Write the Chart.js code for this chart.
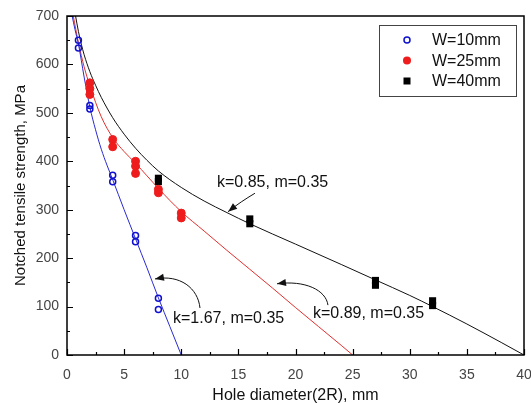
<!DOCTYPE html>
<html>
<head>
<meta charset="utf-8">
<script src="https://cdn.jsdelivr.net/npm/chart.js@4.4.1/dist/chart.umd.min.js"></script>
<style>
  html, body { margin: 0; padding: 0; background: #fff; }
</style>
</head>
<body>
<canvas id="chart" width="531" height="403"></canvas>
<script>
// measured points
const w10X = [1, 1, 2, 2, 4, 4, 6, 6, 8, 8];
const w10Y = [650, 634, 515, 508, 371, 358, 247, 234, 117, 94];
const w25X = [2, 2, 2, 4, 4, 6, 6, 6, 8, 8, 10, 10];
const w25Y = [562, 550, 538, 445, 430, 400, 390, 375, 342, 335, 293, 283];
const w40X = [8, 8, 16, 16, 27, 27, 32, 32];
const w40Y = [365, 358, 281, 271, 154, 144, 112, 102];

// fitted curves
const fit10X = [0.45, 0.7, 1, 1.5, 2, 2.5, 3, 3.5, 4, 5, 6, 7, 8, 9, 10];
const fit10Y = [700, 672, 642, 574, 512, 465, 425, 392, 362, 300, 240, 180, 118, 59, 0];
const fit25X = [0.55, 1, 1.5, 2, 3, 4, 5, 6, 7, 8, 10, 12, 14, 16, 18, 20, 22, 24, 25];
const fit25Y = [700, 645, 595, 556, 492, 449, 420, 396, 370, 344, 296, 256, 216, 177, 138, 98, 59, 20, 0];
const fit40X = [0.75, 1, 1.25, 1.5, 2, 2.5, 3, 4, 5, 6, 7, 8, 10, 12, 14, 16, 20, 24, 27, 30, 32, 35, 38, 40];
const fit40Y = [700, 668, 642, 620, 585, 557, 532, 490, 456, 427, 402, 380, 346, 318, 294, 271, 229, 187, 155, 123, 100, 64, 26, 0];

const seriesLabels = ["W=10mm", "W=25mm", "W=40mm"];
const fitLabels = ["k=1.67, m=0.35", "k=0.89, m=0.35", "k=0.85, m=0.35"];

const FONT = "'Liberation Sans', Arial, sans-serif";
const BLUE = "#1010d0";
const RED = "#ee1c1c";

const pts = (xs, ys) => xs.map((x, i) => ({ x, y: ys[i] }));

// label text + arrow, in data units (p0 -> c1 -> c2 -> tip)
const notes = [
  { text: fitLabels[2], at: [13.13, 357], arrow: [[16.45, 334], [15.6, 322], [14.9, 311], [14.1, 296]] },
  { text: fitLabels[1], at: [21.53, 85], arrow: [[22.84, 103], [22.67, 134], [20.83, 155], [18.38, 147]] },
  { text: fitLabels[0], at: [9.28, 76], arrow: [[11.64, 97], [11.47, 138], [9.89, 167], [7.7, 157]] },
];

const extras = {
  id: "extras",
  afterDatasetsDraw(chart) {
    const { ctx, chartArea: a, scales } = chart;
    const xs = scales.x, ys = scales.y;
    ctx.save();

    // frame + inward ticks
    ctx.strokeStyle = "#000";
    ctx.lineWidth = 1.5;
    ctx.strokeRect(a.left, a.top, a.right - a.left, a.bottom - a.top);
    ctx.lineWidth = 1.2;
    ctx.beginPath();
    for (let v = 0; v <= 40; v += 2.5) {
      const px = Math.round(xs.getPixelForValue(v)) + 0.5;
      const len = v % 5 === 0 ? 6 : 3;
      ctx.moveTo(px, a.bottom);
      ctx.lineTo(px, a.bottom - len);
    }
    for (let v = 0; v <= 700; v += 50) {
      const py = Math.round(ys.getPixelForValue(v)) + 0.5;
      const len = v % 100 === 0 ? 6 : 3;
      ctx.moveTo(a.left, py);
      ctx.lineTo(a.left + len, py);
    }
    ctx.stroke();

    // annotations
    ctx.fillStyle = "#111";
    ctx.font = "16px " + FONT;
    ctx.textBaseline = "middle";
    ctx.textAlign = "left";
    notes.forEach((n) => {
      ctx.fillText(n.text, xs.getPixelForValue(n.at[0]), ys.getPixelForValue(n.at[1]));
      const p = n.arrow.map(([x, y]) => [xs.getPixelForValue(x), ys.getPixelForValue(y)]);
      ctx.strokeStyle = "#111";
      ctx.lineWidth = 1;
      ctx.beginPath();
      ctx.moveTo(p[0][0], p[0][1]);
      ctx.bezierCurveTo(p[1][0], p[1][1], p[2][0], p[2][1], p[3][0], p[3][1]);
      ctx.stroke();
      const ang = Math.atan2(p[3][1] - p[2][1], p[3][0] - p[2][0]);
      const L = 9, W = 3.5;
      ctx.beginPath();
      ctx.moveTo(p[3][0], p[3][1]);
      ctx.lineTo(p[3][0] - L * Math.cos(ang) + W * Math.sin(ang), p[3][1] - L * Math.sin(ang) - W * Math.cos(ang));
      ctx.lineTo(p[3][0] - L * Math.cos(ang) - W * Math.sin(ang), p[3][1] - L * Math.sin(ang) + W * Math.cos(ang));
      ctx.closePath();
      ctx.fill();
    });

    // legend box
    const bx = a.right - 145, by = a.top + 9, bw = 137, bh = 71;
    ctx.strokeStyle = "#444";
    ctx.lineWidth = 1;
    ctx.strokeRect(bx + 0.5, by + 0.5, bw, bh);
    ctx.font = "16px " + FONT;
    ctx.fillStyle = "#111";
    seriesLabels.forEach((lab, i) => {
      const ry = by + 15 + i * 20.5;
      const mx = bx + 28;
      const ds = chart.data.datasets[i];
      if (i === 0) {
        ctx.strokeStyle = ds.borderColor;
        ctx.lineWidth = 1.5;
        ctx.beginPath();
        ctx.arc(mx, ry, 3, 0, Math.PI * 2);
        ctx.stroke();
      } else if (i === 1) {
        ctx.fillStyle = ds.backgroundColor;
        ctx.beginPath();
        ctx.arc(mx, ry, 4, 0, Math.PI * 2);
        ctx.fill();
      } else {
        ctx.fillStyle = ds.backgroundColor;
        ctx.fillRect(mx - 3.5, ry - 3.5, 7, 7);
      }
      ctx.fillStyle = "#111";
      ctx.fillText(lab, bx + 53, ry + 1);
    });
    ctx.restore();
  },
};

new Chart(document.getElementById("chart"), {
  type: "scatter",
  data: {
    datasets: [
      { label: seriesLabels[0], data: pts(w10X, w10Y), pointStyle: "circle", pointRadius: 3,
        borderColor: BLUE, backgroundColor: "rgba(0,0,0,0)", borderWidth: 1.5 },
      { label: seriesLabels[1], data: pts(w25X, w25Y), pointStyle: "circle", pointRadius: 4,
        borderColor: RED, backgroundColor: RED, borderWidth: 1 },
      { label: seriesLabels[2], data: pts(w40X, w40Y), pointStyle: "rect", pointRadius: 5,
        borderColor: "#000", backgroundColor: "#000", borderWidth: 0 },
      { label: fitLabels[0], data: pts(fit10X, fit10Y), showLine: true, pointRadius: 0,
        borderColor: "#2a2ad0", borderWidth: 1, cubicInterpolationMode: "monotone" },
      { label: fitLabels[1], data: pts(fit25X, fit25Y), showLine: true, pointRadius: 0,
        borderColor: "#e03030", borderWidth: 1, cubicInterpolationMode: "monotone" },
      { label: fitLabels[2], data: pts(fit40X, fit40Y), showLine: true, pointRadius: 0,
        borderColor: "#111", borderWidth: 1, cubicInterpolationMode: "monotone" },
    ],
  },
  options: {
    responsive: false,
    animation: false,
    devicePixelRatio: 1,
    layout: { padding: { left: 0, top: 16, right: 7, bottom: 0 } },
    plugins: { legend: { display: false }, tooltip: { enabled: false } },
    scales: {
      x: {
        type: "linear", min: 0, max: 40,
        grid: { display: false, drawTicks: false },
        border: { display: false },
        ticks: { stepSize: 5, padding: 12, color: "#444", font: { family: FONT, size: 14 } },
        title: { display: true, text: "Hole diameter(2R), mm", color: "#111",
          font: { family: FONT, size: 16 }, padding: { top: 0, bottom: -2 } },
        afterFit: (s) => { s.height = 48; s.paddingLeft = 0; s.paddingRight = 0; },
      },
      y: {
        type: "linear", min: 0, max: 700,
        grid: { display: false, drawTicks: false },
        border: { display: false },
        ticks: { stepSize: 100, padding: 8, color: "#444", font: { family: FONT, size: 14 } },
        title: { display: true, text: "Notched tensile strength, MPa", color: "#111",
          font: { family: FONT, size: 15 }, padding: { top: 12, bottom: 0 } },
        afterFit: (s) => { s.width = 67; s.paddingTop = 0; s.paddingBottom = 0; },
      },
    },
  },
  plugins: [extras],
});
</script>
</body>
</html>
